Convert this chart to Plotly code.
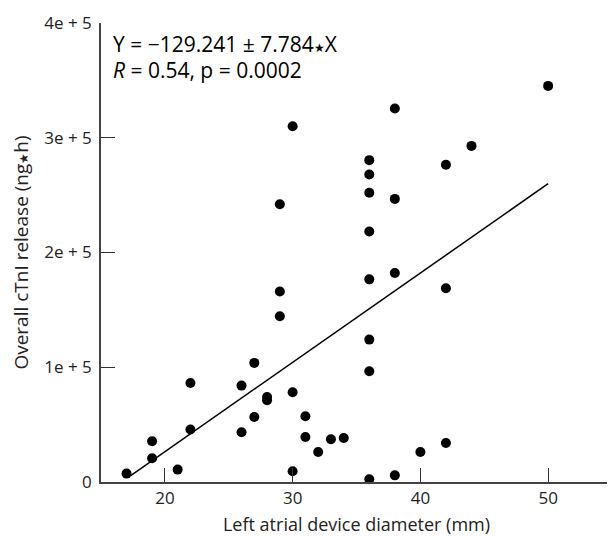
import plotly.graph_objects as go

# Left atrial device diameter (mm)
diameter = [17, 19, 19, 21, 22, 22, 26, 26, 27, 27, 28, 28,
            29, 29, 29, 30, 30, 30, 31, 31, 32, 33, 34,
            36, 36, 36, 36, 36, 36, 36, 36,
            38, 38, 38, 38, 40, 42, 42, 42, 44, 50]
# Overall cTnI release (ng*h)
ctni = [7300, 20700, 35500, 10800, 45700, 86300, 43300, 84000, 56700, 103800, 71200, 74100,
        144500, 166000, 242000, 9300, 78200, 310000, 39200, 57300, 26200, 37200, 38400,
        2400, 96500, 124100, 176600, 218300, 252000, 268000, 280500,
        5800, 182200, 246700, 325500, 26200, 34000, 168900, 276400, 292900, 345200]

intercept = -129.241   # x1000
slope = 7.784          # x1000
fit_x = [17.3, 50.0]
fit_y = [(intercept + slope * v) * 1000 for v in fit_x]

x_ticks = [20, 30, 40, 50]
y_ticks = [0, 100000, 200000, 300000, 400000]
y_ticktext = ["0", "1e + 5", "2e + 5", "3e + 5", "4e + 5"]

FONT = "'Open Sans', sans-serif"
STAR = "<span style='font-size:12px'>★</span>"

fig = go.Figure()
fig.add_trace(go.Scatter(x=fit_x, y=fit_y, mode="lines",
                         line=dict(color="black", width=1.5), hoverinfo="skip"))
fig.add_trace(go.Scatter(x=diameter, y=ctni, mode="markers",
                         marker=dict(color="black", size=10), cliponaxis=False))

fig.update_layout(
    width=607, height=528,
    margin=dict(l=93, r=3, t=15, b=54),
    plot_bgcolor="white", paper_bgcolor="white",
    showlegend=False,
    font=dict(family=FONT, size=16, color="#222"),
    xaxis=dict(range=[15, 55], tickvals=x_ticks, ticks="inside", ticklen=14,
               tickcolor="#333", showgrid=False, zeroline=False,
               showline=True, linecolor="#444", linewidth=1.5,
               title=dict(text="Left atrial device diameter (mm)", standoff=10,
                          font=dict(size=18)),
               tickfont=dict(size=17)),
    yaxis=dict(range=[0, 400000], tickvals=y_ticks, ticktext=y_ticktext,
               ticks="inside", ticklen=14, tickcolor="#333",
               showgrid=False, zeroline=False,
               showline=True, linecolor="#444", linewidth=1.5,
               ticklabelstandoff=4,
               title=dict(text="Overall cTnI release (ng" + STAR + "h)",
                          standoff=11, font=dict(size=19)),
               tickfont=dict(size=17)),
)

fig.add_annotation(xref="paper", yref="paper", x=0.02, y=0.954,
                   xanchor="left", yanchor="middle", showarrow=False,
                   text="Y = −129.241 ± 7.784" + STAR + "X",
                   font=dict(size=21, family=FONT, color="black"))
fig.add_annotation(xref="paper", yref="paper", x=0.02, y=0.898,
                   xanchor="left", yanchor="middle", showarrow=False,
                   text="<i>R</i> = 0.54, p = 0.0002",
                   font=dict(size=21, family=FONT, color="black"))

fig.write_html("out.html")
